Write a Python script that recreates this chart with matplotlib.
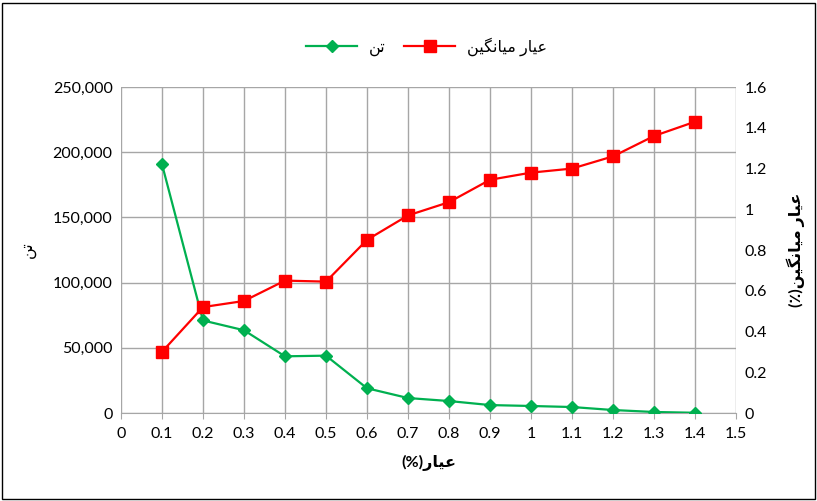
import matplotlib
matplotlib.use('Agg')
import matplotlib.pyplot as plt
from matplotlib.ticker import FuncFormatter, MultipleLocator
from matplotlib.patches import Rectangle

plt.rcParams['font.family'] = ['Lato', 'DejaVu Sans']

# داده ها
grade = [0.1, 0.2, 0.3, 0.4, 0.5, 0.6, 0.7, 0.8, 0.9, 1.0, 1.1, 1.2, 1.3, 1.4]
tonnage = [191000, 71000, 63500, 43500, 44000, 19000, 11500, 9200, 6100,
           5400, 4600, 2300, 800, 200]
mean_grade = [0.30, 0.52, 0.55, 0.65, 0.645, 0.85, 0.97, 1.035, 1.145,
              1.18, 1.20, 1.26, 1.36, 1.43]

# متن فارسی به صورت شکل های نمایشی (matplotlib شکل دهی عربی ندارد)
AYAR = '\uFEAD\uFE8E\uFBFF\uFECB'                              # عیار
MIANGIN = '\uFEE6\uFBFF\uFB95\uFEE7\uFE8E\uFBFF\uFEE3'         # میانگین
TON = '\uFEE6\uFE97'                                           # تن

fig = plt.figure(figsize=(8.17, 5.01), dpi=100)
ax = fig.add_axes([0.148, 0.1756, 0.753, 0.6506])
ax2 = ax.twinx()

green = '#00b050'
red = '#ff0000'

l1, = ax.plot(grade, tonnage, color=green, lw=1.6, marker='D', markersize=6,
              label=TON, zorder=3)
l2, = ax2.plot(grade, mean_grade, color=red, lw=1.6, marker='s', markersize=8,
               label=MIANGIN + ' ' + AYAR, zorder=3)

ax.set_xlim(0, 1.5)
ax.set_ylim(0, 250000)
ax2.set_ylim(0, 1.6)
ax.xaxis.set_major_locator(MultipleLocator(0.1))
ax.yaxis.set_major_locator(MultipleLocator(50000))
ax2.yaxis.set_major_locator(MultipleLocator(0.2))

ax.xaxis.set_major_formatter(FuncFormatter(lambda v, p: f'{v:g}'))
ax.yaxis.set_major_formatter(FuncFormatter(lambda v, p: f'{int(v):,}'))
ax2.yaxis.set_major_formatter(FuncFormatter(lambda v, p: f'{v:g}'))

ax.grid(True, color='#a6a6a6', lw=1)
ax.set_axisbelow(True)
for a in (ax, ax2):
    for s in a.spines.values():
        s.set_visible(False)
ax.spines['bottom'].set_visible(True)
ax.spines['bottom'].set_color('#a6a6a6')

ax.tick_params(axis='x', length=4, color='#a6a6a6', labelsize=11.5, pad=6)
ax.tick_params(axis='y', length=0, labelsize=11.5, pad=6)
ax2.tick_params(axis='y', length=0, labelsize=11.5, pad=6)

ax.set_xlabel('(%)' + AYAR, fontsize=11.5, fontweight='bold', labelpad=10)
ax.set_ylabel(TON, fontsize=11.5, rotation=90, labelpad=12)
ax2.set_ylabel('(\u066A)' + MIANGIN + ' ' + AYAR, fontsize=11.5, fontweight='bold',
               rotation=90, labelpad=14)

fig.legend(handles=[l1, l2], loc='upper center', bbox_to_anchor=(0.522, 0.955),
           ncol=2, frameon=False, fontsize=11.5, handlelength=3.2,
           handletextpad=0.7, columnspacing=1.2)

fig.patches.append(Rectangle((0.003, 0.004), 0.994, 0.99, transform=fig.transFigure,
                             fill=False, edgecolor='black', lw=1))

plt.savefig('out.png', dpi=100)
plt.close()
